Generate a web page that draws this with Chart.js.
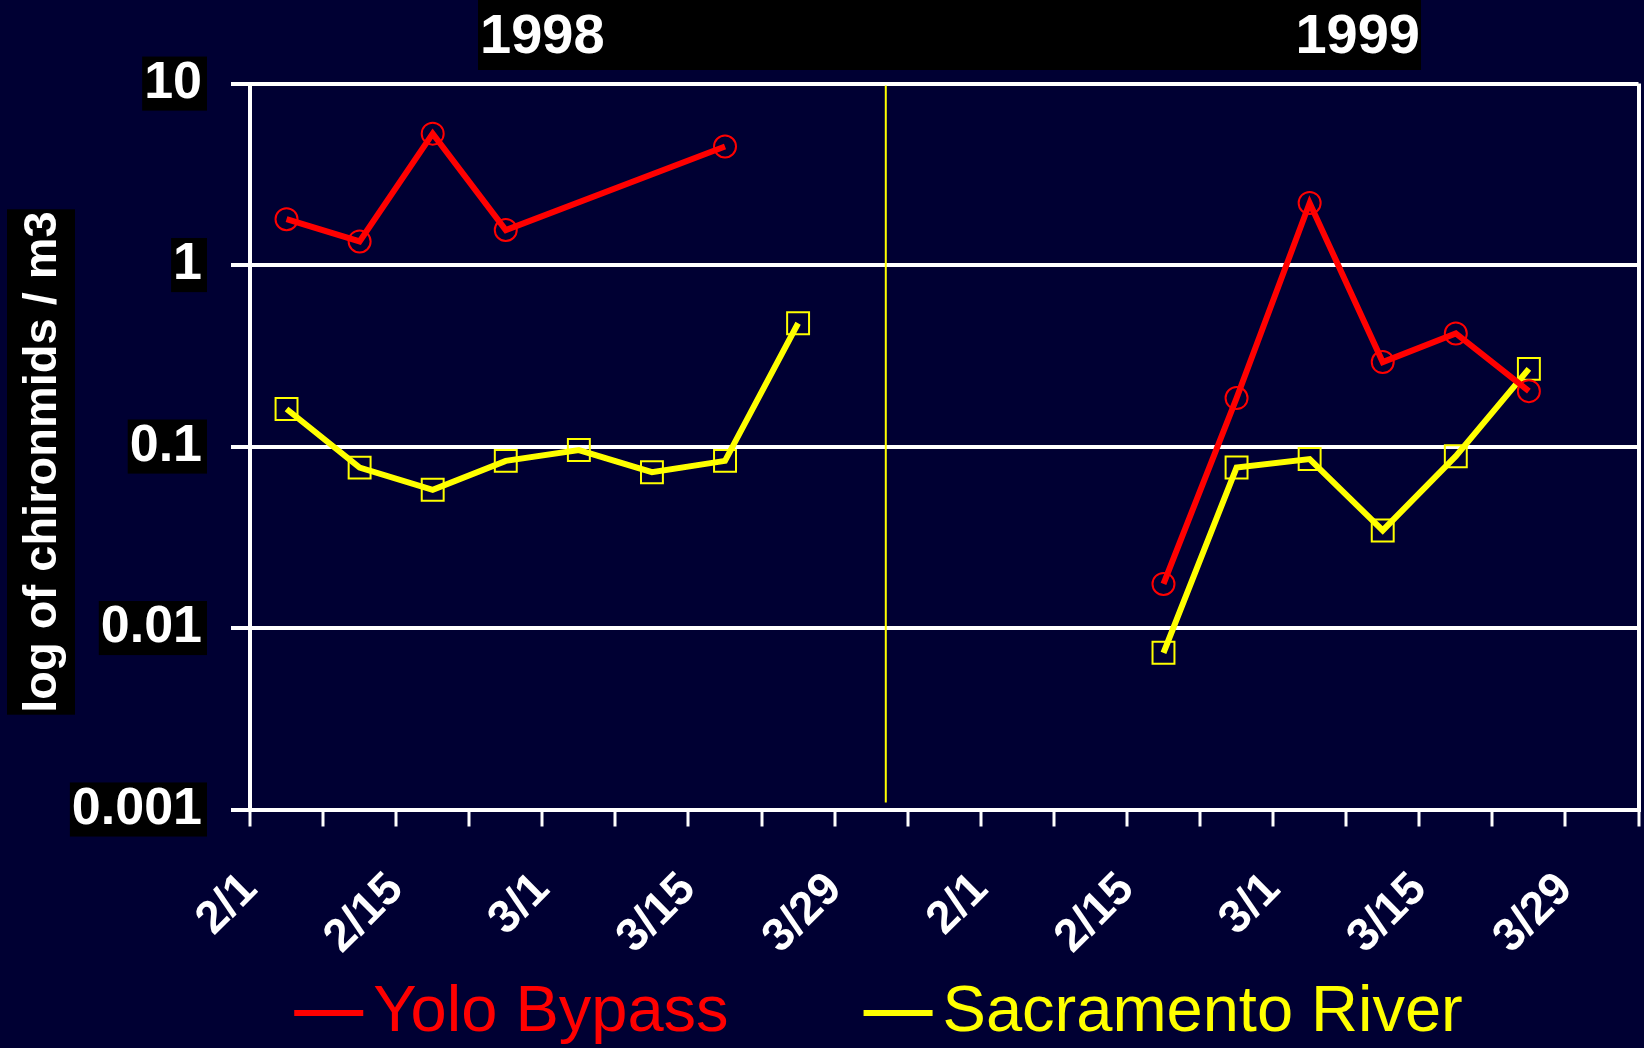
<!DOCTYPE html>
<html>
<head>
<meta charset="utf-8">
<title>Chironomids 1998-1999</title>
<script src="https://cdn.jsdelivr.net/npm/chart.js@4.4.1/dist/chart.umd.min.js"></script>
<style>
  html, body { margin: 0; padding: 0; background: #000033; }
  canvas { display: block; }
</style>
</head>
<body>
<canvas id="chart" width="1644" height="1048"></canvas>
<script>
// ---- data (weekly slots: 0 = 2/1/1998 ... 10 = 2/1/1999) ----
const yearLabels = ["1998", "1999"];
const xTickLabels = ["2/1", "", "2/15", "", "3/1", "", "3/15", "", "3/29", "",
                     "2/1", "", "2/15", "", "3/1", "", "3/15", "", "3/29", ""];
const yTickValues = [10, 1, 0.1, 0.01, 0.001];
const yTickLabels = ["10", "1", "0.1", "0.01", "0.001"];
const yTitle = "log of chironmids / m3";

const yoloWeeks98 = [0, 1, 2, 3, 6];
const yoloValues98 = [1.79, 1.35, 5.3, 1.56, 4.5];
const yoloWeeks99 = [12, 13, 14, 15, 16, 17];
const yoloValues99 = [0.0175, 0.185, 2.2, 0.292, 0.42, 0.202];

const sacWeeks98 = [0, 1, 2, 3, 4, 5, 6, 7];
const sacValues98 = [0.161, 0.0765, 0.0578, 0.0834, 0.0957, 0.0722, 0.0834, 0.478];
const sacWeeks99 = [12, 13, 14, 15, 16, 17];
const sacValues99 = [0.0073, 0.0766, 0.0853, 0.0345, 0.0885, 0.268];

const yearBreak = 8.7; // where the yellow divider sits on the week axis
const weekCount = 19;

// points sit in the middle of their weekly slot, with a gap between the years
const toPoints = (weeks, vals) => weeks.map((w, i) => ({ x: w + 0.5, y: vals[i] }));
const series = (w98, v98, w99, v99) =>
  [...toPoints(w98, v98), { x: yearBreak, y: null }, ...toPoints(w99, v99)];

const FONT = '"Liberation Sans", Arial, sans-serif';

const decorPlugin = {
  id: "decor",
  afterLayout(chart) {
    // let the tick labels spill outside their (squeezed) scale boxes
    chart.scales.x.bottom = chart.height;
    chart.scales.y.left = 0;
  },
  beforeDraw(chart) {
    const ctx = chart.ctx;
    ctx.save();
    // header bar with the two years
    ctx.fillStyle = "#000000";
    ctx.fillRect(478, 0, 943, 70);
    ctx.fillStyle = "#ffffff";
    ctx.font = "bold 56px " + FONT;
    ctx.textBaseline = "alphabetic";
    ctx.textAlign = "left";
    ctx.fillText(yearLabels[0], 480, 53);
    ctx.textAlign = "right";
    ctx.fillText(yearLabels[1], 1420, 53);

    // y axis title on a black box
    ctx.translate(41, 462);
    ctx.rotate(-Math.PI / 2);
    ctx.font = "bold 47px " + FONT;
    const w = ctx.measureText(yTitle).width;
    ctx.fillStyle = "#000000";
    ctx.fillRect(-w / 2 - 2, -34, w + 4, 68);
    ctx.fillStyle = "#ffffff";
    ctx.textAlign = "center";
    ctx.textBaseline = "middle";
    ctx.fillText(yTitle, 0, 2);
    ctx.restore();
  },
  beforeDatasetsDraw(chart) {
    const ctx = chart.ctx;
    const x = chart.scales.x.getPixelForValue(yearBreak);
    ctx.save();
    ctx.strokeStyle = "#ffff00";
    ctx.lineWidth = 2;
    ctx.beginPath();
    ctx.moveTo(x, chart.chartArea.top + 2);
    ctx.lineTo(x, chart.chartArea.bottom - 7);
    ctx.stroke();
    ctx.restore();
  }
};

Chart.defaults.font.family = FONT;
Chart.defaults.color = "#ffffff";

new Chart(document.getElementById("chart"), {
  type: "line",
  data: {
    datasets: [
      {
        label: "Yolo Bypass",
        data: series(yoloWeeks98, yoloValues98, yoloWeeks99, yoloValues99),
        borderColor: "#ff0000",
        backgroundColor: "transparent",
        borderWidth: 6,
        pointStyle: "circle",
        pointRadius: 11,
        pointBorderWidth: 2,
        pointBorderColor: "#ff0000",
        pointBackgroundColor: "transparent",
        spanGaps: false
      },
      {
        label: "Sacramento River",
        data: series(sacWeeks98, sacValues98, sacWeeks99, sacValues99),
        borderColor: "#ffff00",
        backgroundColor: "transparent",
        borderWidth: 6,
        pointStyle: "rect",
        pointRadius: 15.5,
        pointBorderWidth: 2,
        pointBorderColor: "#ffff00",
        pointBackgroundColor: "transparent",
        spanGaps: false
      }
    ]
  },
  options: {
    responsive: false,
    animation: false,
    devicePixelRatio: 1,
    layout: {
      autoPadding: false,
      padding: { left: 141, right: 5.5, top: 83.6, bottom: -7.5 }
    },
    plugins: {
      tooltip: { enabled: false },
      legend: {
        position: "bottom",
        labels: {
          usePointStyle: true,
          pointStyle: "line",
          boxWidth: 24,
          boxHeight: 48.8,
          padding: 157.5,
          font: { size: 65 },
          generateLabels(chart) {
            const items = Chart.defaults.plugins.legend.labels.generateLabels(chart);
            return items.map((it) => ({ ...it, lineWidth: 6, fontColor: it.strokeStyle }));
          }
        }
      }
    },
    scales: {
      x: {
        type: "linear",
        min: 0,
        max: weekCount,
        afterFit: (s) => { s.height = 13.5; s.paddingLeft = 0; s.paddingRight = 0; },
        border: { color: "#ffffff", width: 4 },
        grid: {
          color: (c) => (c.tick && c.tick.value === weekCount ? "#ffffff" : "transparent"),
          lineWidth: 4,
          tickColor: "#ffffff",
          tickWidth: 3,
          tickLength: 17
        },
        ticks: {
          stepSize: 1,
          autoSkip: false,
          maxRotation: 45,
          minRotation: 45,
          padding: 36,
          color: "#ffffff",
          font: { size: 46, weight: "bold" },
          callback: (v) => xTickLabels[v] ?? ""
        }
      },
      y: {
        type: "logarithmic",
        min: 0.001,
        max: 10,
        afterFit: (s) => { s.width = 109; },
        afterBuildTicks: (s) => { s.ticks = yTickValues.map((v) => ({ value: v })); },
        border: { color: "#ffffff", width: 4 },
        grid: { color: "#ffffff", lineWidth: 4, tickLength: 19 },
        ticks: {
          color: "#ffffff",
          padding: 29,
          font: { size: 52, weight: "bold", lineHeight: 1.04 },
          showLabelBackdrop: true,
          backdropColor: "#000000",
          backdropPadding: { top: 0, bottom: 0, left: 2, right: 5 },
          callback: (v) => {
            const i = yTickValues.indexOf(v);
            return i >= 0 ? yTickLabels[i] : "";
          }
        }
      }
    }
  },
  plugins: [decorPlugin]
});
</script>
</body>
</html>
